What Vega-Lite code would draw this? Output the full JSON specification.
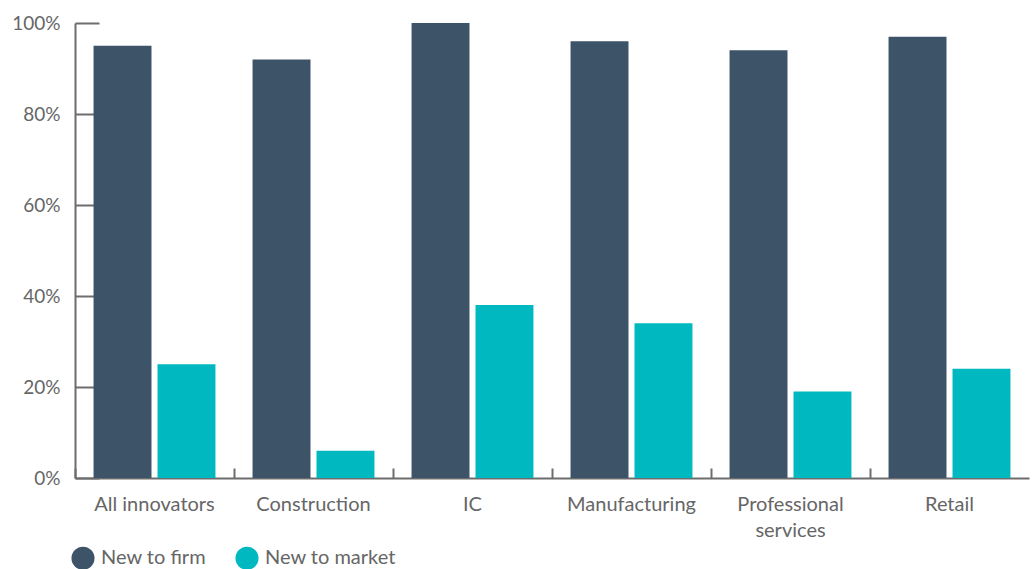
{
  "$schema": "https://vega.github.io/schema/vega-lite/v6.json",
  "autosize": "none",
  "padding": {"left": 75, "top": 23, "right": 3, "bottom": 91},
  "width": 954,
  "height": 455,
  "background": "white",
  "data": {"values": [
    {"sector": "All innovators", "type": "New to firm", "value": 95},
    {"sector": "All innovators", "type": "New to market", "value": 25},
    {"sector": "Construction", "type": "New to firm", "value": 92},
    {"sector": "Construction", "type": "New to market", "value": 6},
    {"sector": "IC", "type": "New to firm", "value": 100},
    {"sector": "IC", "type": "New to market", "value": 38},
    {"sector": "Manufacturing", "type": "New to firm", "value": 96},
    {"sector": "Manufacturing", "type": "New to market", "value": 34},
    {"sector": "Professional services", "type": "New to firm", "value": 94},
    {"sector": "Professional services", "type": "New to market", "value": 19},
    {"sector": "Retail", "type": "New to firm", "value": 97},
    {"sector": "Retail", "type": "New to market", "value": 24}
  ]},
  "mark": {"type": "bar"},
  "encoding": {
    "x": {
      "field": "sector", "type": "nominal", "sort": null,
      "scale": {"paddingInner": 0, "paddingOuter": 0},
      "axis": {
        "title": null, "labelAngle": 0, "bandPosition": 0,
        "tickSize": -10, "tickColor": "#6d6d6d", "tickWidth": 2,
        "domainColor": "#6d6d6d", "domainWidth": 2,
        "labelFont": "Lato", "labelFontSize": 20, "labelColor": "#666666",
        "labelPadding": 26, "labelLineHeight": 26,
        "labelExpr": "datum.label == 'Professional services' ? ['Professional', 'services'] : datum.label"
      }
    },
    "xOffset": {
      "field": "type", "type": "nominal",
      "scale": {"paddingInner": 0.094, "paddingOuter": 0.29}
    },
    "y": {
      "field": "value", "type": "quantitative",
      "scale": {"domain": [0, 100], "nice": false},
      "axis": {
        "title": null, "values": [0, 20, 40, 60, 80, 100],
        "labelExpr": "datum.value + '%'",
        "grid": false, "tickSize": -24, "tickColor": "#6d6d6d", "tickWidth": 2,
        "domainColor": "#6d6d6d", "domainWidth": 2,
        "labelFont": "Lato", "labelFontSize": 19, "labelColor": "#666666",
        "labelPadding": 39
      }
    },
    "color": {
      "field": "type", "type": "nominal",
      "scale": {"domain": ["New to firm", "New to market"], "range": ["#3d5368", "#00b9c0"]},
      "legend": {
        "title": null, "orient": "none", "legendX": -4, "legendY": 523,
        "direction": "horizontal", "symbolType": "circle", "symbolSize": 530,
        "symbolStrokeWidth": 0, "symbolOpacity": 1,
        "labelFont": "Lato", "labelFontSize": 20, "labelColor": "#666666",
        "labelOffset": 6, "columnPadding": 28
      }
    }
  },
  "config": {"view": {"stroke": null}}
}
